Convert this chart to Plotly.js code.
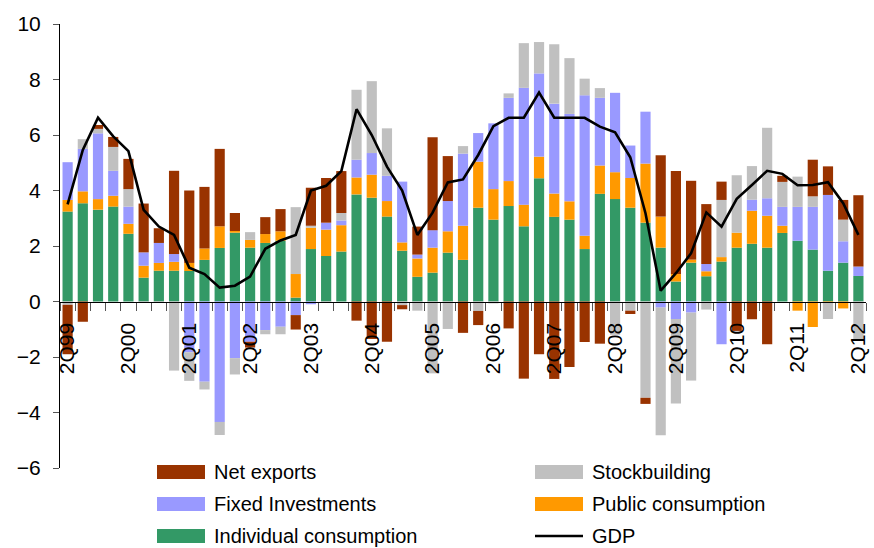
<!DOCTYPE html>
<html>
<head>
<meta charset="utf-8">
<script src="https://cdn.plot.ly/plotly-3.0.1.min.js"></script>
<style>html,body{margin:0;padding:0;background:#fff;}#chart{width:874px;height:548px;}</style>
</head>
<body>
<div id="chart"></div>
<script>
const quarters = ['2Q99','3Q99','4Q99','1Q00','2Q00','3Q00','4Q00','1Q01','2Q01','3Q01','4Q01','1Q02','2Q02','3Q02','4Q02','1Q03','2Q03','3Q03','4Q03','1Q04','2Q04','3Q04','4Q04','1Q05','2Q05','3Q05','4Q05','1Q06','2Q06','3Q06','4Q06','1Q07','2Q07','3Q07','4Q07','1Q08','2Q08','3Q08','4Q08','1Q09','2Q09','3Q09','4Q09','1Q10','2Q10','3Q10','4Q10','1Q11','2Q11','3Q11','4Q11','1Q12','2Q12'];
const tickLabels = ['2Q99','2Q00','2Q01','2Q02','2Q03','2Q04','2Q05','2Q06','2Q07','2Q08','2Q09','2Q10','2Q11','2Q12'];

const individual = [3.24,3.54,3.31,3.42,2.44,0.86,1.11,1.11,1.10,1.50,1.93,2.48,1.94,2.11,2.19,0.14,1.89,1.64,1.80,3.86,3.74,3.06,1.83,0.89,1.04,1.76,1.50,3.38,2.95,3.44,2.71,4.44,3.05,2.95,1.89,3.88,3.69,3.38,2.84,1.94,0.72,1.40,0.91,1.44,1.94,2.08,1.94,2.47,2.19,1.87,1.11,1.40,0.92];
const publicCons = [0.42,0.43,0.38,0.39,0.36,0.43,0.28,0.32,0.29,0.41,0.78,0.06,0.28,0.32,0.34,0.85,0.77,0.95,0.95,0.61,0.83,0.56,0.30,0.66,0.90,0.77,1.23,1.66,1.10,0.90,0.78,0.78,0.84,0.66,0.48,1.02,0.97,1.07,2.13,1.12,0.27,0.11,0.18,0.16,0.54,1.19,1.15,0.26,-0.33,-0.92,-0.04,-0.25,0];
const fixedInv = [1.36,1.53,2.37,0.90,0.62,0.48,0.72,0.28,-1.83,-2.89,-4.34,-2.04,-1.45,-1.03,-0.91,-0.49,-0.10,0.25,0.17,0.64,0.78,0.91,2.19,0.14,0.63,1.09,2.60,1.03,2.37,3.00,4.21,3.00,3.24,3.15,5.06,2.44,2.86,1.17,1.87,-0.22,-0.63,-0.40,0.26,-1.54,0,0.40,0.63,0.68,1.22,1.54,2.73,0.77,0.34];
const stockbuilding = [-0.12,0.35,0.16,0.86,0.63,-0.05,-0.05,-2.49,-1.03,-0.28,-0.47,-0.59,0.28,-0.15,-0.27,2.41,0.07,-0.05,0.27,2.52,2.59,1.71,-0.13,-0.33,-2.59,-0.99,0.27,-0.34,-0.07,0.16,1.61,1.13,2.14,2.01,0.60,0.35,-1.20,-0.33,-3.47,-4.60,-3.05,-2.45,-0.29,2.06,2.07,1.21,2.54,0.90,1.09,0.38,-0.59,0.78,-1.40];
const netExports = [-1.78,-0.73,0.14,0.36,1.09,1.76,0.53,3.00,2.61,2.22,2.79,0.65,-0.21,0.61,0.80,-0.52,1.37,1.61,1.51,-0.69,-1.35,-1.45,-0.15,1.01,3.35,1.62,-1.13,-0.51,0,-0.97,-2.78,-1.90,-2.79,-2.36,-1.46,-1.52,0,-0.12,-0.22,2.21,3.71,2.84,2.16,0.66,-1.06,-0.64,-1.54,0.22,0,1.32,1.03,0.71,2.57];
const gdp = [3.50,5.46,6.62,5.95,5.42,3.30,2.70,2.40,1.22,0.99,0.50,0.57,0.90,1.90,2.20,2.40,4.00,4.17,4.70,6.93,6.00,4.86,4.00,2.40,3.20,4.29,4.40,5.28,6.32,6.62,6.62,7.53,6.62,6.62,6.62,6.30,6.10,5.20,3.18,0.39,1.02,1.74,3.21,2.70,3.70,4.20,4.71,4.60,4.19,4.20,4.30,3.54,2.40];

const names = {ind:'Individual consumption', pub:'Public consumption', fix:'Fixed Investments', stk:'Stockbuilding', net:'Net exports', gdp:'GDP'};
const colors = {ind:'#339966', pub:'#FF9900', fix:'#9999FF', stk:'#C0C0C0', net:'#993300', gdp:'#000000'};

const xs = quarters.map((q,i)=>i);
function bar(key, vals){
  return {type:'bar', x:xs, y:vals, name:names[key], marker:{color:colors[key], line:{width:0}}, showlegend:false, hoverinfo:'skip'};
}
const traces = [
  bar('ind', individual),
  bar('pub', publicCons),
  bar('fix', fixedInv),
  bar('stk', stockbuilding),
  bar('net', netExports),
  {type:'scatter', mode:'lines', x:xs, y:gdp, name:names.gdp, line:{color:colors.gdp, width:2.6}, showlegend:false, hoverinfo:'skip'}
];

const W=874, H=548, L=60, R=8, T=24, B=80;
const pw = W-L-R, ph = H-T-B;
const fx = px => (px-L)/pw;
const fy = py => (H-B-py)/ph;

const legendItems = [
  {key:'net', col:0, row:0},
  {key:'stk', col:1, row:0},
  {key:'fix', col:0, row:1},
  {key:'pub', col:1, row:1},
  {key:'ind', col:0, row:2},
  {key:'gdp', col:1, row:2}
];
const shapes = [], annotations = [];
legendItems.forEach(it=>{
  const x0 = 157 + it.col*378, yc = 472 + it.row*32;
  if(it.key==='gdp'){
    shapes.push({type:'line', xref:'paper', yref:'paper', x0:fx(x0), x1:fx(x0+48), y0:fy(yc), y1:fy(yc), line:{color:colors.gdp, width:2.6}});
  } else {
    shapes.push({type:'rect', xref:'paper', yref:'paper', x0:fx(x0), x1:fx(x0+48), y0:fy(yc-7), y1:fy(yc+7), fillcolor:colors[it.key], line:{width:0}});
  }
  annotations.push({xref:'paper', yref:'paper', x:fx(x0+55), y:fy(yc), xanchor:'left', yanchor:'middle', text:names[it.key], showarrow:false, font:{family:'Liberation Sans, Arial, sans-serif', size:20, color:'#000'}});
});

const layout = {
  width:W, height:H,
  margin:{l:L, r:R, t:T, b:B},
  paper_bgcolor:'#fff', plot_bgcolor:'#fff',
  barmode:'relative', bargap:0.33,
  font:{family:'Liberation Sans, Arial, sans-serif', color:'#000'},
  xaxis:{
    range:[-0.5, 52.5], anchor:'free', position:0.375,
    showline:true, linecolor:'#000', linewidth:1,
    tickvals: tickLabels.map(t=>quarters.indexOf(t)), ticktext: tickLabels,
    tickangle:-90, ticks:'', ticklabelstandoff:12,
    tickfont:{size:21, family:'Liberation Sans, Arial, sans-serif'},
    minor:{tick0:0.5, dtick:1, ticks:'outside', ticklen:8, tickcolor:'#555', tickwidth:1, showgrid:false},
    showgrid:false, zeroline:false, fixedrange:true
  },
  yaxis:{
    range:[-6,10], dtick:2, tick0:0,
    showline:true, linecolor:'#000', linewidth:1,
    ticks:'outside', ticklen:6, tickcolor:'#555',
    tickfont:{size:21, family:'Liberation Sans, Arial, sans-serif'},
    ticklabelstandoff:8,
    showgrid:false, zeroline:false, fixedrange:true
  },
  shapes:shapes,
  annotations:annotations,
  showlegend:false
};

Plotly.newPlot('chart', traces, layout, {displayModeBar:false, staticPlot:true});
</script>
</body>
</html>
